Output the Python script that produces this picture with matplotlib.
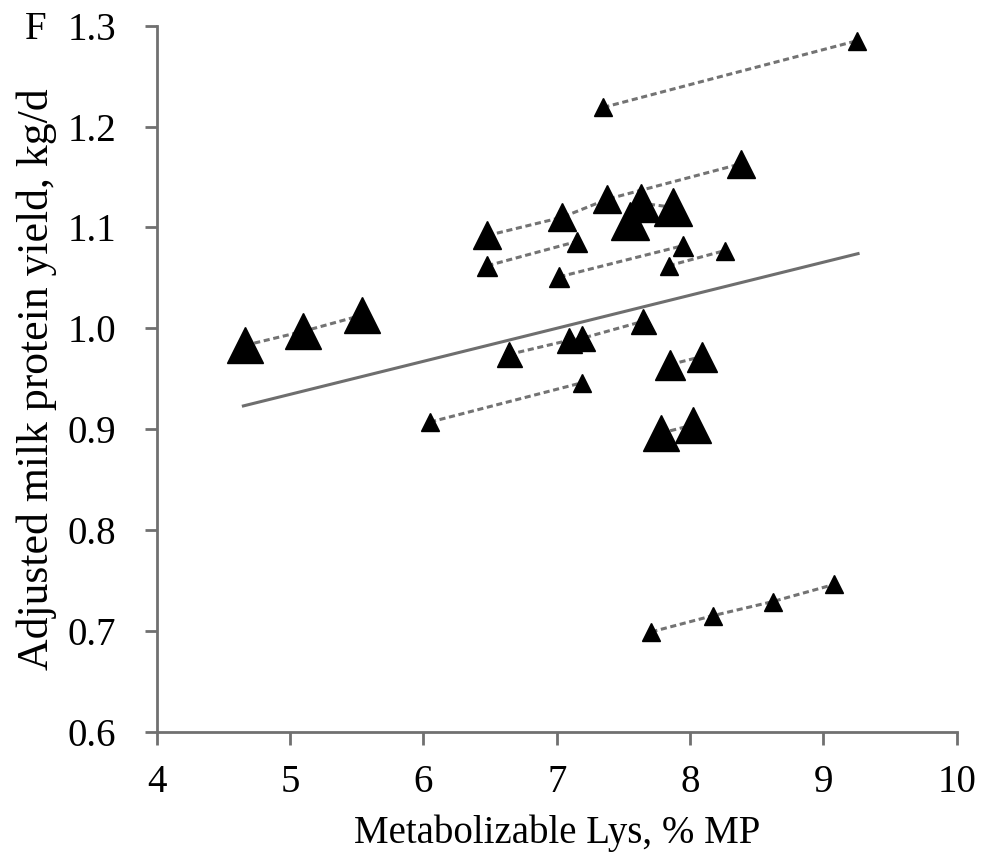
import matplotlib.pyplot as plt

# Metabolizable Lys (% MP) and adjusted milk protein yield (kg/d), one list pair per study
lys_1 = [7.35, 9.25]
prot_1 = [1.219, 1.285]
lys_2 = [6.48, 7.04, 7.38, 8.38]
prot_2 = [1.092, 1.110, 1.128, 1.163]
lys_3 = [7.55, 7.63, 7.87]
prot_3 = [1.106, 1.124, 1.120]
lys_4 = [6.48, 7.15]
prot_4 = [1.062, 1.086]
lys_5 = [7.02, 7.95]
prot_5 = [1.051, 1.082]
lys_6 = [7.84, 8.26]
prot_6 = [1.062, 1.077]
lys_7 = [4.66, 5.10, 5.54]
prot_7 = [0.983, 0.997, 1.013]
lys_8 = [6.64, 7.09, 7.19, 7.65]
prot_8 = [0.974, 0.988, 0.990, 1.007]
lys_9 = [6.05, 7.19]
prot_9 = [0.907, 0.946]
lys_10 = [7.85, 8.09]
prot_10 = [0.964, 0.972]
lys_11 = [7.78, 8.02]
prot_11 = [0.896, 0.904]
lys_12 = [7.71, 8.17, 8.62, 9.08]
prot_12 = [0.699, 0.715, 0.729, 0.746]

# overall fitted line
fit_lys = [4.65, 9.26]
fit_prot = [0.923, 1.074]

studies = [(lys_1, prot_1, 13.5), (lys_2, prot_2, 20), (lys_3, prot_3, 28),
           (lys_4, prot_4, 15), (lys_5, prot_5, 15), (lys_6, prot_6, 13.5),
           (lys_7, prot_7, 26), (lys_8, prot_8, 18), (lys_9, prot_9, 13.5),
           (lys_10, prot_10, 22), (lys_11, prot_11, 26), (lys_12, prot_12, 13.5)]

plt.rcParams['font.family'] = ['Liberation Serif', 'DejaVu Serif']

fig = plt.figure(figsize=(9.85, 8.59), dpi=100)
ax = fig.add_axes([0.1591, 0.1482, 0.8122, 0.8219])

ax.plot(fit_lys, fit_prot, color='#6e6e6e', lw=2.2, zorder=1)
for x, y, ms in studies:
    ax.plot(x, y, color='#737373', lw=2.2, ls=(0, (2, 1.2)), zorder=2)
    ax.plot(x, y, ls='none', marker='^', ms=ms, color='black', zorder=3)

ax.set_xlim(4, 10)
ax.set_ylim(0.6, 1.3)
ax.set_xticks([4, 5, 6, 7, 8, 9, 10])
ax.set_yticks([0.6, 0.7, 0.8, 0.9, 1.0, 1.1, 1.2, 1.3])
ax.set_yticklabels(['0.6', '0.7', '0.8', '0.9', '1.0', '1.1', '1.2', '1.3'])
for s in ['top', 'right']:
    ax.spines[s].set_visible(False)
for s in ['left', 'bottom']:
    ax.spines[s].set_color('#707070')
    ax.spines[s].set_linewidth(2)
ax.tick_params(direction='out', length=9, width=2, color='#707070',
               labelsize=28)
ax.tick_params(axis='x', pad=14)
ax.tick_params(axis='y', pad=20)

ax.set_xlabel('Metabolizable Lys, % MP', fontsize=28, labelpad=10)
ax.set_ylabel('Adjusted milk protein yield, kg/d', fontsize=31.5, labelpad=8)
fig.text(0.025, 0.955, 'F', fontsize=28)

fig.savefig('out.png', dpi=100)
